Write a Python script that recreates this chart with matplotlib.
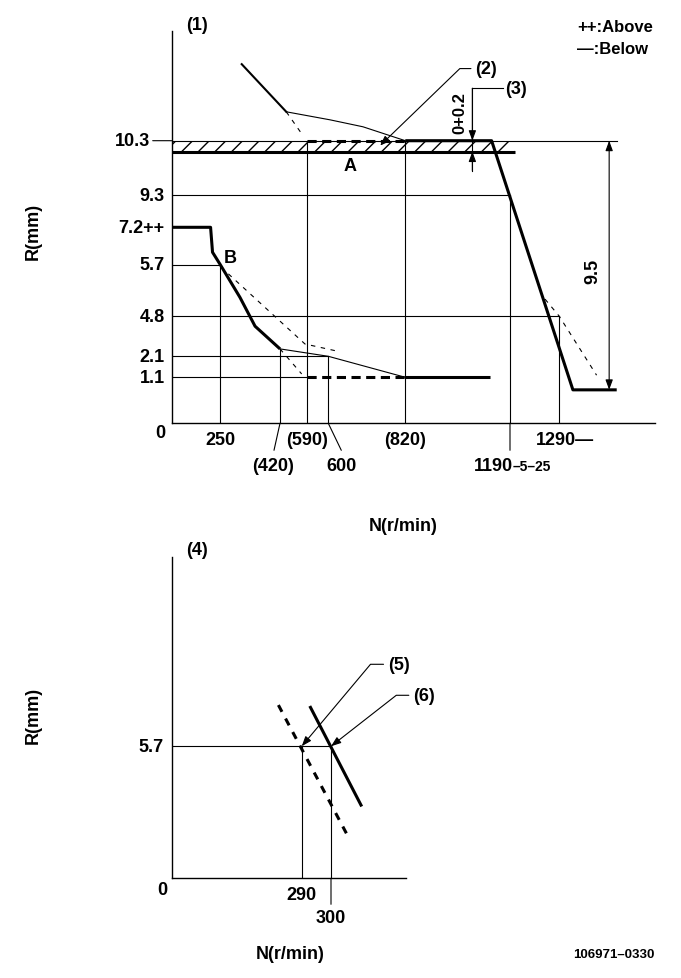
import numpy as np
import matplotlib
matplotlib.use("Agg")
import matplotlib.pyplot as plt

plt.rcParams['font.family'] = ['Liberation Sans', 'DejaVu Sans']
plt.rcParams['font.weight'] = 'bold'
plt.rcParams['hatch.linewidth'] = 1.0

W, H = 681, 979  # output size in pixels (dpi 100)

# ---------------- data, diagram (1) : speed N (r/min) vs rack R (mm) ----------------
speed_ticks = [250, 420, 590, 600, 820, 1190, 1290]
speed_labels = ["250", "(420)", "(590)", "600", "(820)", "1190", "1290\u2014"]
speed_ref_top = [5.7, 2.6, 10.3, 2.1, 10.3, 9.3, 4.8]   # vertical reference lines reach up to

rack_ticks = [10.3, 9.3, 7.2, 5.7, 4.8, 2.1, 1.1]
rack_labels = ["10.3", "9.3", "7.2++", "5.7", "4.8", "2.1", "1.1"]
rack_ref = [10.3, 9.3, 5.7, 4.8, 2.1, 1.1]
rack_ref_end = [1404, 1190, 250, 1290, 600, 590]       # horizontal reference lines reach to

# full load curve (above 10.3)
full_n = [311, 460]
full_r = [11.73, 10.84]
full_thin_n = [460, 605, 699, 820]
full_thin_r = [10.84, 10.69, 10.56, 10.3]
full_dash_n = [460, 558]
full_dash_r = [10.84, 10.43]

# rated / governor cut
rated_dash_n = [590, 820]
rated_dash_r = [10.3, 10.3]
gov_n = [820, 1125, 1317, 1404]
gov_r = [10.3, 10.3, 0.8, 0.8]
gov_dash_n = [1261, 1290, 1364]
gov_dash_r = [5.1, 4.8, 1.2]

# stop band A
stop_n = [0, 1200]
stop_lo, stop_hi = 10.1, 10.3

# start / idle curve
start_n = [0, 200, 210, 250, 306, 349, 420]
start_r = [7.2, 7.2, 6.2, 5.7, 5.13, 4.13, 2.6]
idle_thin_n = [420, 600, 820]
idle_thin_r = [2.6, 2.1, 1.1]
idle_n = [820, 1120]
idle_r = [1.1, 1.1]
idle_dash_n = [590, 820]
idle_dash_r = [1.1, 1.1]
start_dash_n = [273, 579, 633]
start_dash_r = [5.54, 2.93, 2.41]
start_dash2_n = [420, 558]
start_dash2_r = [2.6, 1.26]

dim_tol_n = 1057        # 0+0.2 dimension
dim_tol_r = [11.28, 10.3, 10.1, 9.75]
dim_span_n = 1389       # 9.5 dimension
dim_span_r = [10.3, 0.8]

# ---------------- data, diagram (4) ----------------
sub_speeds = [290, 300]
sub_rack = 5.7
sub_dash_n = [238, 307]
sub_dash_r = [7.48, 1.77]
sub_solid_n = [293, 312]
sub_solid_r = [7.38, 3.16]

# schematic (non-linear) axis scales: value -> drawing position in pixels
N1_KNOTS = ([0, 250, 420, 590, 600, 820, 1190, 1290, 1480],
            [171.7, 220.3, 280, 306.7, 328.3, 405.3, 510, 559.3, 655])
R1_KNOTS = ([0, 1.1, 2.1, 4.8, 5.7, 7.2, 9.3, 10.3, 12.35],
            [-424.3, -378.3, -357.3, -317.3, -265.7, -228.3, -196, -141.7, -32])
N4_KNOTS = ([0, 290, 300, 330], [171.7, 301.7, 331, 406])


def knot_scale(vals, pos):
    vals = np.asarray(vals, float)
    pos = np.asarray(pos, float)

    def interp(v, xp, fp):
        v = np.asarray(v, float)
        out = np.interp(v, xp, fp)
        lo = (fp[1] - fp[0]) / (xp[1] - xp[0])
        hi = (fp[-1] - fp[-2]) / (xp[-1] - xp[-2])
        out = np.where(v < xp[0], fp[0] + (v - xp[0]) * lo, out)
        out = np.where(v > xp[-1], fp[-1] + (v - xp[-1]) * hi, out)
        return out

    return (lambda v: interp(v, vals, pos)), (lambda p: interp(p, pos, vals))


def fx(px):
    return px / W


def fy(py):
    return 1 - py / H


fig = plt.figure(figsize=(W / 100, H / 100), dpi=100)

THICK, MED, THIN = 2.2, 1.5, 0.8
DASH_THIN = (0, (4, 5))
DASH_THICK = (0, (3, 1.8))

# ====================== diagram (1) ======================
ax = fig.add_axes([fx(171.7), fy(424.3), fx(655) - fx(171.7), fy(32) - fy(424.3)])
ax.set_xscale('function', functions=knot_scale(*N1_KNOTS))
ax.set_yscale('function', functions=knot_scale(*R1_KNOTS))
ax.set_xlim(0, 1480)
ax.set_ylim(0, 12.35)
ax.set_xticks([])
ax.set_yticks([])
for s in ['top', 'right']:
    ax.spines[s].set_visible(False)
for s in ['left', 'bottom']:
    ax.spines[s].set_linewidth(1.0)

# reference lines
for r, end in zip(rack_ref, rack_ref_end):
    ax.plot([0, end], [r, r], color='black', lw=THIN)
for n, top in zip(speed_ticks, speed_ref_top):
    ax.plot([n, n], [0, top], color='black', lw=THIN)

# stop band
ax.fill_between(stop_n, stop_lo, stop_hi, facecolor='none', edgecolor='black',
                hatch='//', linewidth=0)
ax.plot(stop_n, [stop_lo, stop_lo], color='black', lw=THICK, solid_capstyle='butt')

# curves
ax.plot(full_n, full_r, color='black', lw=MED)
ax.plot(full_thin_n, full_thin_r, color='black', lw=THIN)
ax.plot(full_dash_n, full_dash_r, color='black', lw=THIN, ls=DASH_THIN)
ax.plot(rated_dash_n, rated_dash_r, color='black', lw=THICK, ls=DASH_THICK)
ax.plot(gov_n, gov_r, color='black', lw=THICK, solid_capstyle='butt')
ax.plot(gov_dash_n, gov_dash_r, color='black', lw=THIN, ls=DASH_THIN)

ax.plot(start_n, start_r, color='black', lw=THICK, solid_capstyle='butt')
ax.plot(idle_thin_n, idle_thin_r, color='black', lw=THIN)
ax.plot(idle_n, idle_r, color='black', lw=THICK, solid_capstyle='butt')
ax.plot(idle_dash_n, idle_dash_r, color='black', lw=THICK, ls=DASH_THICK)
ax.plot(start_dash_n, start_dash_r, color='black', lw=THIN, ls=DASH_THIN)
ax.plot(start_dash2_n, start_dash2_r, color='black', lw=THIN, ls=DASH_THIN)

LINE = dict(arrowstyle='-', color='black', lw=THIN, shrinkA=0, shrinkB=0)
HEAD = dict(arrowstyle='-|>,head_length=0.6,head_width=0.22', color='black', lw=THIN,
            shrinkA=0, shrinkB=0, mutation_scale=10)
FS = 13

# stub of the 10.3 line left of the axis
ax.annotate('', xy=(0, 10.3), xytext=(-19, 0), textcoords='offset pixels',
            arrowprops=LINE, annotation_clip=False)

# y tick labels
for r, lab in zip(rack_ticks, rack_labels):
    off = -22 if r == 10.3 else -7
    ax.annotate(lab, xy=(0, r), xytext=(off, 0), textcoords='offset pixels',
                ha='right', va='center', fontsize=FS, annotation_clip=False)
ax.annotate('0', xy=(0, 0), xytext=(-11, -9), textcoords='offset pixels',
            ha='center', va='center', fontsize=FS, annotation_clip=False)

# x tick labels
row1 = {250: 0, 590: 0, 820: 0}
for n, lab in zip(speed_ticks, speed_labels):
    if n in row1:
        ax.annotate(lab, xy=(n, 0), xytext=(0, -16), textcoords='offset pixels',
                    ha='center', va='center', fontsize=FS, annotation_clip=False)
ax.annotate(speed_labels[6], xy=(1290, 0), xytext=(-23, -16), textcoords='offset pixels',
            ha='left', va='center', fontsize=FS, annotation_clip=False)
for n, lab, dx in [(420, speed_labels[1], -6), (600, speed_labels[3], 13)]:
    ax.annotate('', xy=(n, 0), xytext=(dx, -27), textcoords='offset pixels',
                arrowprops=LINE, annotation_clip=False)
    ax.annotate(lab, xy=(n, 0), xytext=(dx - 1 if dx < 0 else dx, -42),
                textcoords='offset pixels', ha='center', va='center', fontsize=FS,
                annotation_clip=False)
ax.annotate('', xy=(1190, 0), xytext=(0, -27), textcoords='offset pixels',
            arrowprops=LINE, annotation_clip=False)
ax.annotate(speed_labels[5], xy=(1190, 0), xytext=(3, -47), textcoords='offset pixels',
            ha='right', va='baseline', fontsize=FS, annotation_clip=False)
ax.annotate('\u20135\u201325', xy=(1190, 0), xytext=(3, -47), textcoords='offset pixels',
            ha='left', va='baseline', fontsize=10, annotation_clip=False)

# letters
ax.text(662, 9.85, 'A', ha='center', va='center', fontsize=FS)
ax.text(278, 6.0, 'B', ha='center', va='center', fontsize=FS)

# 0+0.2 dimension and leader (3)
ax.plot([dim_tol_n, dim_tol_n], [dim_tol_r[0], dim_tol_r[3]], color='black', lw=THIN)
ax.annotate('', xy=(dim_tol_n, dim_tol_r[1]), xytext=(dim_tol_n, dim_tol_r[0]), arrowprops=HEAD)
ax.annotate('', xy=(dim_tol_n, dim_tol_r[2]), xytext=(dim_tol_n, dim_tol_r[3]), arrowprops=HEAD)
ax.plot([dim_tol_n, 1165], [dim_tol_r[0], dim_tol_r[0]], color='black', lw=THIN)
ax.text(1172, dim_tol_r[0], '(3)', ha='left', va='center', fontsize=FS)
ax.text(1013, 10.84, '0+0.2', rotation=90, ha='center', va='center', fontsize=12)

# 9.5 dimension
ax.annotate('', xy=(dim_span_n, dim_span_r[0]), xytext=(dim_span_n, dim_span_r[1]),
            arrowprops=dict(HEAD, arrowstyle='<|-|>,head_length=0.6,head_width=0.22'))
ax.text(1357, 5.6, '9.5', rotation=90, ha='center', va='center', fontsize=FS)

# leader (2)
ax.annotate('(2)', xy=(748, 10.21), xytext=(95, 77), textcoords='offset pixels',
            ha='left', va='center', fontsize=FS,
            arrowprops=dict(HEAD, connectionstyle='angle,angleA=0,angleB=44,rad=0',
                            relpos=(0, 0.5), shrinkA=1))

# ====================== diagram (4) ======================
ax2 = fig.add_axes([fx(171.7), fy(879.3), fx(406) - fx(171.7), fy(558.3) - fy(879.3)])
ax2.set_xscale('function', functions=knot_scale(*N4_KNOTS))
ax2.set_xlim(0, 330)
ax2.set_ylim(0, 13.86)
ax2.set_xticks([])
ax2.set_yticks([])
for s in ['top', 'right']:
    ax2.spines[s].set_visible(False)
for s in ['left', 'bottom']:
    ax2.spines[s].set_linewidth(1.0)

ax2.plot([0, sub_speeds[1]], [sub_rack, sub_rack], color='black', lw=THIN)
ax2.plot([sub_speeds[0]] * 2, [0, sub_rack], color='black', lw=THIN)
ax2.plot([sub_speeds[1]] * 2, [0, sub_rack], color='black', lw=THIN)
ax2.annotate('', xy=(sub_speeds[1], 0), xytext=(0, -26), textcoords='offset pixels',
             arrowprops=LINE, annotation_clip=False)
ax2.plot(sub_dash_n, sub_dash_r, color='black', lw=THICK, ls=(0, (2.5, 2.5)))
ax2.plot(sub_solid_n, sub_solid_r, color='black', lw=THICK)

ax2.annotate('5.7', xy=(0, sub_rack), xytext=(-8, 0), textcoords='offset pixels',
             ha='right', va='center', fontsize=FS, annotation_clip=False)
ax2.annotate('0', xy=(0, 0), xytext=(-9, -11), textcoords='offset pixels',
             ha='center', va='center', fontsize=FS, annotation_clip=False)
ax2.annotate(str(sub_speeds[0]), xy=(sub_speeds[0], 0), xytext=(0, -16),
             textcoords='offset pixels', ha='center', va='center', fontsize=FS,
             annotation_clip=False)
ax2.annotate(str(sub_speeds[1]), xy=(sub_speeds[1], 0), xytext=(0, -39),
             textcoords='offset pixels', ha='center', va='center', fontsize=FS,
             annotation_clip=False)

ax2.annotate('(5)', xy=(sub_speeds[0], sub_rack), xytext=(86, 82), textcoords='offset pixels',
             ha='left', va='center', fontsize=FS,
             arrowprops=dict(HEAD, connectionstyle='angle,angleA=0,angleB=50,rad=0',
                             relpos=(0, 0.5), shrinkA=1))
ax2.annotate('(6)', xy=(sub_speeds[1], sub_rack), xytext=(82, 51), textcoords='offset pixels',
             ha='left', va='center', fontsize=FS,
             arrowprops=dict(HEAD, connectionstyle='angle,angleA=0,angleB=38,rad=0',
                             relpos=(0, 0.5), shrinkA=1))

# ====================== figure texts ======================
fig.text(fx(197.5), fy(25), '(1)', ha='center', va='center', fontsize=FS)
fig.text(fx(196.7), fy(551), '(4)', ha='center', va='center', fontsize=FS)
fig.text(fx(577), fy(27), '++:Above', ha='left', va='center', fontsize=12)
fig.text(fx(577), fy(50), '\u2014:Below', ha='left', va='center', fontsize=12)
fig.text(fx(33), fy(231), 'R(mm)', rotation=90, ha='center', va='center', fontsize=FS)
fig.text(fx(33), fy(715), 'R(mm)', rotation=90, ha='center', va='center', fontsize=FS)
fig.text(fx(403), fy(527), 'N(r/min)', ha='center', va='center', fontsize=FS)
fig.text(fx(290), fy(955), 'N(r/min)', ha='center', va='center', fontsize=FS)
fig.text(fx(655), fy(955), '106971\u20130330', ha='right', va='center', fontsize=9.5)

fig.savefig('out.png', dpi=100, facecolor='white')
